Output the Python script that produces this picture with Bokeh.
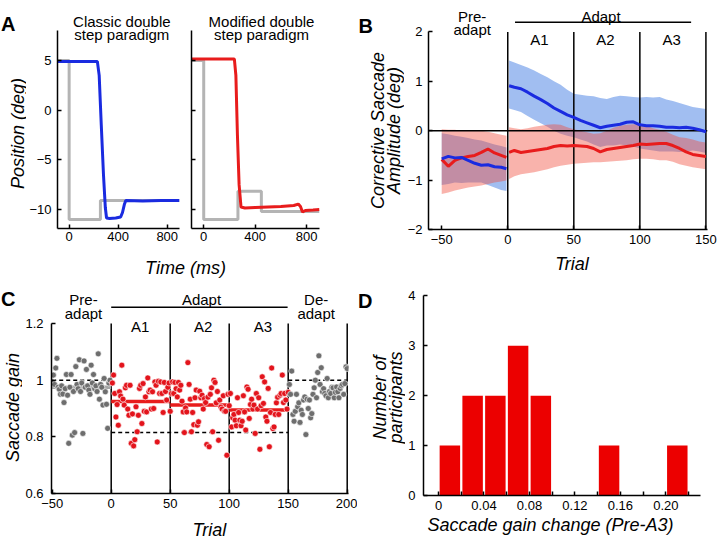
import math
from bokeh.plotting import figure
from bokeh.models import Range1d, FixedTicker, Label, CustomJSTickFormatter
from bokeh.layouts import row, column
from bokeh.embed import file_html
from bokeh.resources import INLINE

FONT = "Liberation Sans"

# ---------------- Panel A data (time ms, position deg) ----------------
a_classic_target_t = [-95, 0, 0, 255, 255, 900]
a_classic_target_pos = [5, 5, -11, -11, -9.1, -9.1]
a_classic_eye_t = [-95, 230, 245, 262, 280, 295, 305, 330, 380, 420, 435, 450, 462, 600, 750, 900]
a_classic_eye_pos = [4.9, 4.9, 3.5, -1.5, -6.5, -9.8, -10.85, -10.9, -10.85, -10.75, -10.3, -9.5, -9.1, -9.15, -9.1, -9.1]
a_mod_target_t = [-95, 0, 0, 266, 266, 448, 448, 900]
a_mod_target_pos = [5, 5, -11, -11, -8.15, -8.15, -10.2, -10.2]
a_mod_eye_t = [-95, 238, 250, 262, 275, 290, 320, 400, 500, 600, 700, 735, 752, 768, 790, 850, 900]
a_mod_eye_pos = [5.15, 5.15, 3.5, -2.5, -7.5, -9.75, -9.85, -9.8, -9.75, -9.7, -9.6, -9.45, -9.7, -10.25, -10.1, -10.05, -10.0]
a_xticks = [0, 400, 800]
a_yticks = [-10, -5, 0, 5]

# ---------------- Panel B data ----------------
b_pre_x = [-50, -45, -40, -35, -30, -25, -20, -15, -10, -5, -1]
b_blue_pre_mean = [-0.57, -0.52, -0.55, -0.54, -0.60, -0.66, -0.70, -0.69, -0.73, -0.74, -0.77]
b_blue_pre_hi = [-0.05, -0.07, -0.10, -0.12, -0.15, -0.18, -0.20, -0.24, -0.28, -0.31, -0.34]
b_blue_pre_lo = [-1.10, -1.08, -1.05, -1.06, -1.05, -1.05, -1.05, -1.10, -1.15, -1.20, -1.22]
b_red_pre_mean = [-0.58, -0.72, -0.60, -0.55, -0.52, -0.50, -0.44, -0.37, -0.45, -0.50, -0.54]
b_red_pre_hi = [0.03, 0.02, 0.02, 0.00, 0.00, 0.01, 0.00, -0.02, -0.05, -0.08, -0.10]
b_red_pre_lo = [-1.28, -1.25, -1.21, -1.18, -1.15, -1.13, -1.11, -1.08, -1.05, -1.03, -1.01]

b_ad_x = [1, 5, 10, 15, 20, 25, 30, 35, 40, 45, 50, 55, 60, 65, 70, 75, 80, 85, 90, 95,
          100, 105, 110, 115, 120, 125, 130, 135, 140, 145, 150]
b_blue_ad_mean = [0.91, 0.88, 0.85, 0.78, 0.70, 0.63, 0.55, 0.46, 0.39, 0.32, 0.27, 0.21, 0.16, 0.11, 0.06, 0.09,
                  0.11, 0.13, 0.17, 0.18, 0.12, 0.10, 0.10, 0.09, 0.07, 0.07, 0.06, 0.07, 0.05, 0.02, -0.02]
b_blue_ad_hi = [1.42, 1.38, 1.33, 1.28, 1.22, 1.15, 1.08, 1.00, 0.93, 0.83, 0.75, 0.73, 0.71, 0.70, 0.66, 0.64,
                0.68, 0.71, 0.70, 0.68, 0.67, 0.68, 0.67, 0.68, 0.63, 0.60, 0.56, 0.52, 0.48, 0.46, 0.44]
b_blue_ad_lo = [0.45, 0.42, 0.38, 0.30, 0.22, 0.15, 0.08, 0.00, -0.06, -0.10, -0.13, -0.18, -0.22, -0.28, -0.33, -0.30,
                -0.30, -0.28, -0.30, -0.32, -0.36, -0.38, -0.40, -0.42, -0.42, -0.42, -0.43, -0.42, -0.40, -0.42, -0.45]
b_red_ad_mean = [-0.44, -0.40, -0.44, -0.42, -0.40, -0.38, -0.36, -0.32, -0.30, -0.31, -0.30, -0.31, -0.32, -0.36, -0.43, -0.38,
                 -0.36, -0.34, -0.32, -0.30, -0.27, -0.28, -0.27, -0.26, -0.26, -0.30, -0.36, -0.43, -0.48, -0.50, -0.52]
b_red_ad_hi = [0.07, 0.05, 0.03, 0.05, 0.08, 0.10, 0.12, 0.13, 0.12, 0.07, 0.03, 0.00, -0.03, -0.06, -0.05, 0.00,
               0.06, 0.10, 0.12, 0.13, 0.13, 0.10, 0.05, 0.02, -0.02, -0.08, -0.13, -0.15, -0.18, -0.22, -0.24]
b_red_ad_lo = [-0.98, -0.92, -0.88, -0.86, -0.84, -0.81, -0.78, -0.74, -0.71, -0.69, -0.67, -0.66, -0.65, -0.64, -0.64, -0.63,
               -0.62, -0.61, -0.60, -0.58, -0.57, -0.57, -0.58, -0.60, -0.60, -0.63, -0.68, -0.71, -0.74, -0.76, -0.78]
b_xticks = [-50, 0, 50, 100, 150]
b_yticks = [-2, -1, 0, 1, 2]
b_phase_bounds = [0, 50, 100, 150]
b_adapt_span = [5.5, 138.8]
b_block_names = ["A1", "A2", "A3"]
b_block_centers = [24, 74, 124]

# ---------------- Panel C data (saccade gain per trial) ----------------
c_pre_trials = list(range(-50, 0))
c_pre_gain = [0.995, 1.018, 0.985, 1.043, 1.077, 0.975, 0.968, 0.950, 0.980, 0.951,
              0.921, 0.970, 1.020, 0.947, 0.777, 0.975, 1.020, 0.806, 0.960, 0.815,
              1.048, 0.985, 0.970, 1.072, 0.960, 0.990, 0.812, 1.068, 0.975, 1.038,
              0.980, 0.965, 0.950, 1.053, 0.990, 1.020, 0.970, 0.980, 0.960, 1.093,
              0.933, 0.985, 0.975, 0.912, 1.006, 0.959, 0.915, 0.830, 0.990, 1.000]
c_adapt_trials = list(range(1, 151))
c_adapt_gain = [
    # A1
    0.990, 1.018, 0.953, 0.870, 0.914, 0.841, 0.959, 0.944, 1.053, 0.933,
    0.912, 0.973, 0.982, 0.898, 0.876, 0.982, 0.777, 0.881, 0.768, 0.790,
    0.906, 0.818, 0.876, 0.971, 0.982, 0.847, 0.988, 0.890, 0.941, 0.888,
    1.008, 0.959, 0.965, 0.898, 0.959, 0.900, 0.994, 0.982, 0.782, 0.996,
    0.953, 0.994, 0.953, 0.886, 0.992, 0.960, 0.930, 0.975, 0.990, 0.890,
    # A2
    0.953, 0.994, 0.953, 0.992, 0.970, 0.941, 0.992, 0.965, 0.982, 0.926,
    0.888, 0.815, 0.902, 0.888, 1.062, 0.985, 0.933, 0.818, 0.886, 0.843,
    0.938, 0.965, 0.841, 0.853, 0.961, 0.938, 0.947, 0.898, 0.935, 0.921,
    0.773, 0.940, 0.765, 0.950, 0.973, 0.818, 1.000, 0.992, 0.920, 0.960,
    0.788, 0.930, 0.905, 0.898, 0.945, 0.890, 0.890, 0.735, 0.950, 0.910,
    # A3
    0.953, 0.835, 0.867, 0.879, 0.859, 0.839, 0.938, 0.886, 0.859, 0.839,
    0.855, 0.945, 0.888, 0.824, 0.976, 0.968, 0.865, 0.914, 0.933, 0.898,
    0.912, 0.812, 0.953, 0.898, 0.938, 0.756, 0.910, 1.012, 0.918, 0.994,
    0.870, 0.855, 0.971, 0.765, 0.886, 1.043, 0.829, 0.835, 0.879, 0.920,
    0.940, 0.879, 0.947, 0.953, 1.018, 0.921, 0.953, 0.930, 0.898, 0.957]
c_de_trials = list(range(151, 201))
c_de_gain = [0.985, 0.950, 1.032, 0.879, 0.855, 0.890, 0.950, 0.906, 0.920, 0.851,
             0.894, 0.879, 0.930, 0.941, 0.808, 0.933, 0.900, 0.930, 0.867, 0.882,
             0.950, 0.973, 1.000, 0.938, 1.027, 1.086, 0.985, 1.044, 0.959, 0.970,
             0.953, 0.945, 1.006, 0.938, 0.960, 0.953, 0.975, 0.973, 0.938, 0.957,
             0.976, 0.959, 0.938, 0.971, 0.980, 0.985, 0.950, 0.988, 1.047, 1.041]
c_phase_start = [-50, 0, 50, 100]
c_phase_end = [0, 50, 100, 150]
c_phase_mean = [0.975, 0.925, 0.912, 0.895]
c_base_start = [-50, 0, 150]
c_base_end = [0, 150, 200]
c_base_gain = [1.0, 0.815, 1.0]
c_bounds = [0, 50, 100, 150, 200]
c_xticks = [-50, 0, 50, 100, 150, 200]
c_yticks = [0.6, 0.8, 1.0, 1.2]
c_adapt_span = [0, 149.5]
c_block_names = ["A1", "A2", "A3"]
c_block_centers = [24.6, 78, 128.5]

# ---------------- Panel D data ----------------
d_bin_left = [0.00, 0.02, 0.04, 0.06, 0.08, 0.14, 0.20]
d_counts = [1, 2, 2, 3, 2, 1, 1]
d_bin_width = 0.02
d_xticks = [0, 0.04, 0.08, 0.12, 0.16, 0.20]
d_xminor = [0.02, 0.06, 0.10, 0.14, 0.18, 0.22]
d_yticks = [0, 1, 2, 3, 4]

BLUE = "#1a2be0"
RED = "#e81c1c"
GRAY = "#b4b4b4"


def make_fig(w, h, bl, br, bt, bb, xr, yr):
    p = figure(width=w, height=h, x_range=Range1d(*xr), y_range=Range1d(*yr),
               output_backend="svg", toolbar_location=None,
               min_border_left=bl, min_border_right=br,
               min_border_top=bt, min_border_bottom=bb)
    p.grid.visible = False
    p.outline_line_color = None
    p.background_fill_color = "white"
    p.border_fill_color = "white"
    for ax in p.axis:
        ax.axis_line_width = 1.5
        ax.axis_line_color = "black"
        ax.major_tick_in = 4
        ax.major_tick_out = 0
        ax.major_tick_line_width = 1.5
        ax.major_tick_line_color = "black"
        ax.minor_tick_line_color = None
        ax.major_label_text_font = FONT
        ax.major_label_text_font_size = "13px"
        ax.major_label_text_color = "black"
    p.yaxis.major_label_standoff = 6
    p.xaxis.major_label_standoff = 4
    return p


def make_strip(w, h):
    p = figure(width=w, height=h, x_range=Range1d(0, w), y_range=Range1d(0, h),
               output_backend="svg", toolbar_location=None, x_axis_type=None, y_axis_type=None,
               min_border_left=0, min_border_right=0, min_border_top=0, min_border_bottom=0)
    p.outline_line_color = None
    p.background_fill_color = "white"
    p.border_fill_color = "white"
    return p


def conv(ox, oy, w, h, bl, br, bt, bb, xr, yr):
    fl, fr = ox + bl, ox + w - br
    ft, fb = oy + bt, oy + h - bb
    sx = (fr - fl) / (xr[1] - xr[0])
    sy = (fb - ft) / (yr[1] - yr[0])
    return (lambda px: xr[0] + (px - fl) / sx), (lambda py: yr[0] + (fb - py) / sy)


def strip_conv(ox, oy, w, h):
    return (lambda px: px - ox), (lambda py: oy + h - py)


def txt(p, x, y, s, size=15, style="normal", angle=0, align="center", baseline="alphabetic"):
    p.add_layout(Label(x=x, y=y, text=s, text_font=FONT, text_font_size=f"{size}px",
                       text_font_style=style, angle=angle, text_align=align,
                       text_baseline=baseline, text_color="black"))


TOP_H = 280
BOT_H = 541 - TOP_H

# ================= Panel A =================
A_XR = (-95, 900)
A_YR = (-11.91, 11.03)
a_geo1 = (26, 0, 159, 246, 25, 6, 0, 18)
a_geo2 = (185, 0, 145, 246, 6, 11, 0, 18)
sa_geo = (0, 0, 26, TOP_H)
fa_geo = (26, 246, 304, TOP_H - 246)

sa = make_strip(*sa_geo[2:])
sx, sy = strip_conv(*sa_geo)
txt(sa, sx(0.5), sy(23.3), "A", size=20, style="bold", align="left")
txt(sa, sx(17), sy(133), "Position (deg)", size=18, style="italic", angle=math.pi / 2, baseline="middle")

pa1 = make_fig(*a_geo1[2:], A_XR, A_YR)
fx, fy = conv(*a_geo1, A_XR, A_YR)
pa1.xaxis.ticker = FixedTicker(ticks=a_xticks)
pa1.yaxis.ticker = FixedTicker(ticks=a_yticks)
pa1.yaxis.bounds = (A_YR[0], fy(30))
pa1.xaxis.major_label_standoff = 3
pa1.line(a_classic_target_t, a_classic_target_pos, color=GRAY, line_width=3)
pa1.line(a_classic_eye_t, a_classic_eye_pos, color=BLUE, line_width=3)
txt(pa1, fx(118.5), fy(21.3), "Classic double")
txt(pa1, fx(118.5), fy(34.3), "step paradigm")

pa2 = make_fig(*a_geo2[2:], A_XR, A_YR)
fx, fy = conv(*a_geo2, A_XR, A_YR)
pa2.xaxis.ticker = FixedTicker(ticks=a_xticks)
pa2.yaxis.ticker = FixedTicker(ticks=[], minor_ticks=a_yticks)
pa2.yaxis.minor_tick_line_color = "black"
pa2.yaxis.minor_tick_line_width = 1.5
pa2.yaxis.minor_tick_in = 4
pa2.yaxis.minor_tick_out = 0
pa2.yaxis.major_label_standoff = 0
pa2.yaxis.bounds = (A_YR[0], fy(30))
pa2.xaxis.major_label_standoff = 3
pa2.line(a_mod_target_t, a_mod_target_pos, color=GRAY, line_width=3)
pa2.line(a_mod_eye_t, a_mod_eye_pos, color=RED, line_width=3)
txt(pa2, fx(261), fy(21.3), "Modified double")
txt(pa2, fx(261), fy(34.3), "step paradigm")

fa = make_strip(*fa_geo[2:])
sx, sy = strip_conv(*fa_geo)
txt(fa, sx(185), sy(267), "Time (ms)", size=18, style="italic")

# ================= Panel B =================
B_XR = (-60, 151.2)
B_YR = (-2, 2.636)
sb_geo = (330, 0, 74, TOP_H)
b_geo = (404, 0, 315, 249, 20, 12, 0, 20)
fb_geo = (404, 249, 315, TOP_H - 249)

sb = make_strip(*sb_geo[2:])
sx, sy = strip_conv(*sb_geo)
txt(sb, sx(358), sy(25), "B", size=20, style="bold", align="left")
txt(sb, sx(377), sy(130), "Corrective Saccade", size=18, style="italic", angle=math.pi / 2, baseline="middle")
txt(sb, sx(393.5), sy(130), "Amplitude (deg)", size=18, style="italic", angle=math.pi / 2, baseline="middle")

pb = make_fig(*b_geo[2:], B_XR, B_YR)
fx, fy = conv(*b_geo, B_XR, B_YR)
pb.xaxis.ticker = FixedTicker(ticks=b_xticks)
pb.yaxis.ticker = FixedTicker(ticks=b_yticks)
pb.yaxis.bounds = (b_yticks[0], b_yticks[-1])
pb.xaxis.major_label_standoff = 5

pb.varea(x=b_pre_x, y1=b_blue_pre_lo, y2=b_blue_pre_hi, fill_color="#2f6fe0", fill_alpha=0.45)
pb.varea(x=b_ad_x, y1=b_blue_ad_lo, y2=b_blue_ad_hi, fill_color="#2f6fe0", fill_alpha=0.45)
pb.varea(x=b_pre_x, y1=b_red_pre_lo, y2=b_red_pre_hi, fill_color="#f04a3a", fill_alpha=0.42)
pb.varea(x=b_ad_x, y1=b_red_ad_lo, y2=b_red_ad_hi, fill_color="#f04a3a", fill_alpha=0.42)
pb.segment(x0=[B_XR[0]], y0=[0], x1=[B_XR[1]], y1=[0], line_color="black", line_width=1.5)
pb.segment(x0=b_phase_bounds, y0=[b_yticks[0]] * len(b_phase_bounds), x1=b_phase_bounds,
           y1=[b_yticks[-1]] * len(b_phase_bounds), line_color="black", line_width=1.5)
pb.line(b_pre_x, b_red_pre_mean, color=RED, line_width=3)
pb.line(b_ad_x, b_red_ad_mean, color=RED, line_width=3)
pb.line(b_pre_x, b_blue_pre_mean, color=BLUE, line_width=3)
pb.line(b_ad_x, b_blue_ad_mean, color=BLUE, line_width=3)
pb.segment(x0=[b_adapt_span[0]], x1=[b_adapt_span[1]], y0=[fy(21.7)], y1=[fy(21.7)],
           line_color="black", line_width=1.5)
txt(pb, fx(468.3), fy(16), "Pre-")
txt(pb, fx(468.3), fy(29), "adapt")
txt(pb, fx(599), fy(16), "Adapt")
for name, cx in zip(b_block_names, b_block_centers):
    txt(pb, cx, fy(39), name)

fbt = make_strip(*fb_geo[2:])
sx, sy = strip_conv(*fb_geo)
txt(fbt, sx(566), sy(263), "Trial", size=18, style="italic")

# ================= Panel C =================
C_XR = (-50.6, 201.1)
C_YR = (0.6, 0.6 + 213 / 283.3)
sc_geo = (0, TOP_H, 22, BOT_H)
c_geo = (22, TOP_H, 335, 233, 29, 9, 0, 20)
fc_geo = (22, TOP_H + 233, 335, BOT_H - 233)

sc = make_strip(*sc_geo[2:])
sx, sy = strip_conv(*sc_geo)
txt(sc, sx(0.5), sy(298), "C", size=20, style="bold", align="left")
txt(sc, sx(12), sy(407), "Saccade gain", size=18, style="italic", angle=math.pi / 2, baseline="middle")

pc = make_fig(*c_geo[2:], C_XR, C_YR)
fx, fy = conv(*c_geo, C_XR, C_YR)
pc.xaxis.ticker = FixedTicker(ticks=c_xticks)
pc.yaxis.ticker = FixedTicker(ticks=c_yticks)
pc.yaxis.bounds = (c_yticks[0], c_yticks[-1])
pc.yaxis.formatter = CustomJSTickFormatter(code="return Math.abs(tick - 1) < 1e-9 ? '1' : tick.toFixed(1);")
pc.yaxis.major_label_standoff = 8
pc.xaxis.major_label_standoff = 5

pc.segment(x0=c_bounds, y0=[c_yticks[0]] * len(c_bounds), x1=c_bounds,
           y1=[c_yticks[-1]] * len(c_bounds), line_color="black", line_width=1.5)
pc.segment(x0=c_base_start, y0=c_base_gain, x1=c_base_end, y1=c_base_gain,
           line_color="black", line_width=1.5, line_dash="4 3")
pc.segment(x0=c_phase_start, y0=c_phase_mean, x1=c_phase_end, y1=c_phase_mean,
           line_color=["#a6a6a6", RED, RED, RED], line_width=3.5)
pc.scatter(c_pre_trials, c_pre_gain, size=6, fill_color="#6e6e6e", line_color="white", line_width=0.6)
pc.scatter(c_adapt_trials, c_adapt_gain, size=6, fill_color="#e3141c", line_color="white", line_width=0.6)
pc.scatter(c_de_trials, c_de_gain, size=6, fill_color="#6e6e6e", line_color="white", line_width=0.6)
pc.segment(x0=[c_adapt_span[0]], x1=[c_adapt_span[1]], y0=[fy(306.7)], y1=[fy(306.7)],
           line_color="black", line_width=1.5)
txt(pc, fx(83), fy(299), "Pre-")
txt(pc, fx(83), fy(312.5), "adapt")
txt(pc, fx(201), fy(299), "Adapt")
txt(pc, fx(315.7), fy(299), "De-")
txt(pc, fx(315.7), fy(312.5), "adapt")
for name, cx in zip(c_block_names, c_block_centers):
    txt(pc, cx, fy(326), name)

fct = make_strip(*fc_geo[2:])
sx, sy = strip_conv(*fc_geo)
txt(fct, sx(200), sy(529), "Trial", size=18, style="italic")

# ================= Panel D =================
D_XR = (-0.0132, 0.2304)
D_YR = (0, 215 / 49.9)
sd_geo = (357, TOP_H, 48, BOT_H)
d_geo = (405, TOP_H, 314, 235, 18, 19, 0, 20)
fd_geo = (405, TOP_H + 235, 314, BOT_H - 235)

sd = make_strip(*sd_geo[2:])
sx, sy = strip_conv(*sd_geo)
txt(sd, sx(357.5), sy(300), "D", size=20, style="bold", align="left")
txt(sd, sx(379), sy(397), "Number of", size=18, style="italic", angle=math.pi / 2, baseline="middle")
txt(sd, sx(395), sy(397), "participants", size=18, style="italic", angle=math.pi / 2, baseline="middle")

pd_ = make_fig(*d_geo[2:], D_XR, D_YR)
fx, fy = conv(*d_geo, D_XR, D_YR)
pd_.xaxis.ticker = FixedTicker(ticks=d_xticks, minor_ticks=d_xminor)
pd_.xaxis.minor_tick_line_color = "black"
pd_.xaxis.minor_tick_line_width = 1.5
pd_.xaxis.minor_tick_in = 4
pd_.xaxis.minor_tick_out = 0
pd_.xaxis.formatter = CustomJSTickFormatter(code="return Math.abs(tick) < 1e-9 ? '0' : tick.toFixed(2);")
pd_.yaxis.ticker = FixedTicker(ticks=d_yticks)
pd_.yaxis.bounds = (d_yticks[0], d_yticks[-1])
pd_.yaxis.major_label_standoff = 8
pd_.xaxis.major_label_standoff = 5
d_centers = [b + d_bin_width / 2 for b in d_bin_left]
pd_.vbar(x=d_centers, top=d_counts, bottom=0, width=d_bin_width * 0.9, fill_color="#ec0000", line_color=None)

fdt = make_strip(*fd_geo[2:])
sx, sy = strip_conv(*fd_geo)
txt(fdt, sx(549), sy(524), "Saccade gain change (Pre-A3)", size=18, style="italic")

top = row(sa, column(row(pa1, pa2), fa), sb, column(pb, fbt))
bottom = row(sc, column(pc, fct), sd, column(pd_, fdt))
layout = column(top, bottom)
open("out.html", "w").write(file_html(layout, INLINE))
